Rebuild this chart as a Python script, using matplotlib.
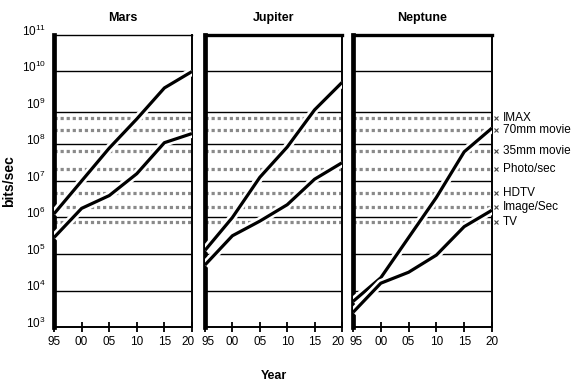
import matplotlib
matplotlib.use("Agg")
import matplotlib.pyplot as plt
import matplotlib.patheffects as pe
import matplotlib.transforms as mtransforms
import numpy as np

plt.rcParams['font.family'] = ['Liberation Sans', 'DejaVu Sans']
plt.rcParams['mathtext.fontset'] = 'custom'
plt.rcParams['mathtext.rm'] = 'Liberation Sans'

years = [1995, 2000, 2005, 2010, 2015, 2020]
year_labels = ["95", "00", "05", "10", "15", "20"]

planets = ["Mars", "Jupiter", "Neptune"]
# log10(bits/sec)
mars_upper = [6.1, 7.0, 7.9, 8.7, 9.55, 10.0]
mars_lower = [5.45, 6.25, 6.6, 7.2, 8.05, 8.3]
jupiter_upper = [5.1, 6.0, 7.1, 7.93, 8.95, 9.7]
jupiter_lower = [4.7, 5.5, 5.9, 6.35, 7.05, 7.5]
neptune_upper = [3.7, 4.35, 5.45, 6.55, 7.8, 8.45]
neptune_lower = [3.4, 4.2, 4.5, 4.97, 5.75, 6.2]

band_names = ["IMAX", "70mm movie", "35mm movie", "Photo/sec", "HDTV", "Image/Sec", "TV"]
band_rates = [5.4e8, 2.5e8, 6.6e7, 2.1e7, 4.7e6, 1.9e6, 7.6e5]
grid_levels = [1e4, 1e5, 1e6, 1e7, 1e8, 8e8, 1e10]

upper = [mars_upper, jupiter_upper, neptune_upper]
lower = [mars_lower, jupiter_lower, neptune_lower]

fig = plt.figure(figsize=(5.87, 3.85), dpi=100)
W, H = 587.0, 385.0
lefts = [54, 205, 353]
widths = [138, 137, 139]
top_px, bot_px = 35, 327

halo = [pe.Stroke(linewidth=6, foreground='white'), pe.Normal()]

for i, name in enumerate(planets):
    ax = fig.add_axes([lefts[i] / W, 1 - bot_px / H, widths[i] / W, (bot_px - top_px) / H])
    ax.set_yscale('log')
    ax.set_ylim(1e3, 1e11)
    ax.set_xlim(1995, 2020)
    for lv in grid_levels:
        ax.axhline(lv, color='black', lw=1.0, zorder=1)
    for r in band_rates:
        ax.axhline(r, color='#8a8a8a', lw=2.3, ls=(0, (1.0, 0.9)), zorder=1.5)
    yu = [10 ** v for v in upper[i]]
    yl = [10 ** v for v in lower[i]]
    ax.plot(years, yu, color='black', lw=2.3, zorder=3, path_effects=halo, solid_capstyle='butt')
    ax.plot(years, yl, color='black', lw=2.3, zorder=3, path_effects=halo, solid_capstyle='butt')

    ax.set_xticks(years)
    ax.set_xticklabels(year_labels, fontsize=8.5)
    ax.tick_params(axis='x', direction='inout', length=7, width=1.3, pad=3)
    labs = ax.get_xticklabels()
    if i < 2:
        labs[-1].set_transform(labs[-1].get_transform() +
                               mtransforms.ScaledTranslation(-3 / 72, 0, fig.dpi_scale_trans))
    if i > 0:
        labs[0].set_transform(labs[0].get_transform() +
                              mtransforms.ScaledTranslation(2 / 72, 0, fig.dpi_scale_trans))
    ax.spines['left'].set_linewidth(3.4)
    ax.spines['right'].set_linewidth(1.4)
    ax.spines['bottom'].set_linewidth(1.4)
    ax.spines['top'].set_linewidth(1.0 if i == 0 else 2.4)
    ax.set_title(name, fontsize=9, fontweight='bold', pad=10)
    ax.yaxis.set_minor_locator(matplotlib.ticker.NullLocator())
    if i == 0:
        ax.set_yticks([10.0 ** k for k in range(3, 12)])
        ax.set_yticklabels([r"$10^{%d}$" % k for k in range(3, 12)], fontsize=8.5)
        ax.tick_params(axis='y', length=0, pad=6)
        off = mtransforms.ScaledTranslation(0, 4 / 72, fig.dpi_scale_trans)
        for lab in ax.get_yticklabels():
            lab.set_transform(lab.get_transform() + off)
        ax.set_ylabel("bits/sec", fontsize=10, fontweight='bold', labelpad=4)
    else:
        ax.set_yticks([])
    if i == 1:
        ax.set_xlabel("Year", fontsize=9, fontweight='bold', labelpad=16)
    if i == 2:
        for nm, r in zip(band_names, band_rates):
            ax.plot([2020.8], [r], marker='x', ms=2.5, mew=0.8, color='#444444', clip_on=False)
            ax.annotate(nm, xy=(1.0, r), xycoords=('axes fraction', 'data'),
                        xytext=(8, 0), textcoords='offset points',
                        fontsize=8.5, va='center', ha='left', annotation_clip=False)

fig.savefig("out.png", dpi=100)
